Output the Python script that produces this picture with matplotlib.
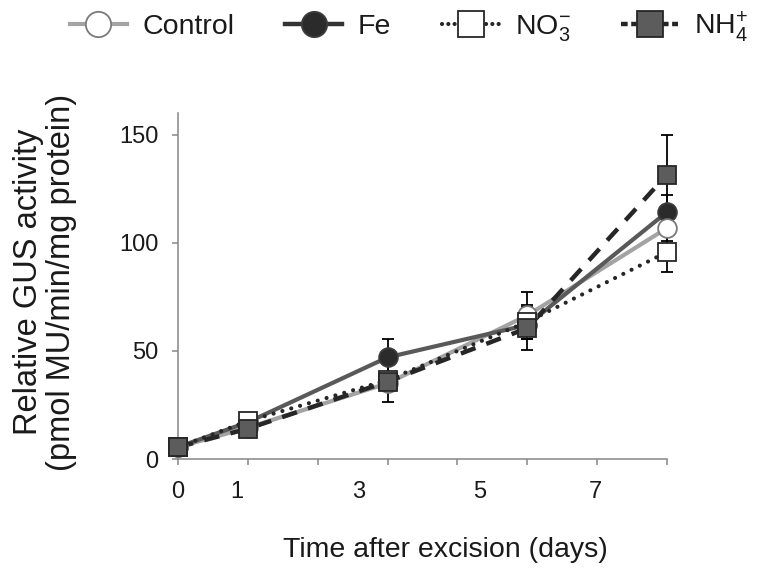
import matplotlib
matplotlib.use("Agg")
import matplotlib.pyplot as plt
from matplotlib.lines import Line2D

plt.rcParams['font.family'] = ['Liberation Sans', 'DejaVu Sans']
plt.rcParams['mathtext.fontset'] = 'custom'
plt.rcParams['mathtext.rm'] = 'Liberation Sans'
plt.rcParams['mathtext.it'] = 'Liberation Sans:italic'

# Sampling days (drawn on an evenly spaced category axis)
days = [0, 1, 3, 5, 7]
day_labels = ["0", "1", "3", "5", "7"]

# Relative GUS activity (pmol MU/min/mg protein)
control = [5.5, 14.5, 35.0, 66.4, 106.8]
fe = [5.5, 17.0, 47.0, 62.0, 114.2]
no3 = [5.5, 17.5, 36.5, 63.4, 95.7]
nh4 = [5.5, 14.0, 35.8, 60.5, 131.5]

# Standard errors
control_err = [1.0, 1.5, 3.0, 11.0, 6.0]
fe_err = [1.0, 1.5, 8.5, 5.0, 7.7]
no3_err = [1.0, 1.5, 3.0, 8.0, 9.4]
nh4_err = [1.0, 1.5, 9.3, 10.0, 18.2]

series_names = ["Control", "Fe", r"$\mathregular{NO_3^{-}}$", r"$\mathregular{NH_4^{+}}$"]

W, H = 760, 571
fig = plt.figure(figsize=(W / 100, H / 100), dpi=100)
ax = fig.add_axes([178 / W, 1 - 459 / H, (667 - 178) / W, (459 - 113) / H])

axis_gray = "#868686"
text_col = "#1a1a1a"

styles = [
    dict(y=control, e=control_err,
         line=dict(color="#a3a3a3", lw=3.0, ls="-"),
         leg=dict(color="#a3a3a3", lw=3.0, ls="-"),
         mk=dict(marker="o", mfc="white", mec="#7a7a7a", mew=1.3), z=6),
    dict(y=fe, e=fe_err,
         line=dict(color="#595959", lw=3.0, ls="-"),
         leg=dict(color="#333333", lw=3.2, ls="-"),
         mk=dict(marker="o", mfc="#2b2b2b", mec="#3c3c3c", mew=1.3), z=5),
    dict(y=no3, e=no3_err,
         line=dict(color="#262626", lw=3.0, ls=(0, (0.01, 2.2)), dash_capstyle="round"),
         leg=dict(color="#262626", lw=3.0, ls=(0, (0.01, 1.5)), dash_capstyle="round"),
         mk=dict(marker="s", mfc="white", mec="#262626", mew=1.3), z=7),
    dict(y=nh4, e=nh4_err,
         line=dict(color="#262626", lw=3.2, ls=(0, (3.5, 2.6))),
         leg=dict(color="#262626", lw=3.2, ls=(0, (1.5, 0.8))),
         mk=dict(marker="s", mfc="#5c5c5c", mec="#262626", mew=1.3), z=8),
]

msize = 13.5
for st in styles:
    ax.plot(days, st["y"], zorder=2, clip_on=False, **st["line"])
for st in styles:
    ax.errorbar(days, st["y"], yerr=st["e"], fmt="none", ecolor="#000000",
                elinewidth=1.3, capsize=4.5, capthick=1.3, zorder=3, clip_on=False)
for st in styles:
    ax.plot(days, st["y"], ls="none", ms=msize, zorder=st["z"], clip_on=False, **st["mk"])

ax.set_xlim(0, 7)
ax.set_ylim(0, 160)
ax.set_yticks([0, 50, 100, 150])
ax.set_xticks(range(8))
ax.set_xticklabels([])
# day labels sit on their own (zero-length) minor ticks
ax.xaxis.remove_overlapping_locs = False
ax.set_xticks([0, 0.845, 2.59, 4.32, 5.97], minor=True)
ax.set_xticklabels(day_labels, minor=True)

for side in ("top", "right"):
    ax.spines[side].set_visible(False)
for side in ("left", "bottom"):
    ax.spines[side].set_color(axis_gray)
    ax.spines[side].set_linewidth(1.1)

ax.tick_params(axis="y", which="major", direction="out", length=4.3, width=1.1,
               color=axis_gray, labelsize=17, labelcolor=text_col, pad=10)
ax.tick_params(axis="x", which="major", direction="out", length=4.3, width=1.1,
               color=axis_gray)
ax.tick_params(axis="x", which="minor", length=0, labelsize=17,
               labelcolor=text_col, pad=16)

fig.text(45 / W, 1 - 282 / H, "Relative GUS activity\n(pmol MU/min/mg protein)",
         rotation=90, ha="center", va="center", multialignment="center",
         fontsize=23.5, linespacing=1.12, color=text_col)
fig.text(445 / W, 1 - 550 / H, "Time after excision (days)",
         ha="center", va="center", fontsize=20.5, color=text_col)

handles = []
for st in styles:
    handles.append(Line2D([], [], ms=msize, **st["leg"], **st["mk"]))
fig.legend(handles, series_names, loc="center", bbox_to_anchor=(409 / W, 1 - 27 / H),
           ncol=4, frameon=False, fontsize=20.5, handlelength=2.0,
           handletextpad=0.56, columnspacing=1.78, markerscale=1.35,
           borderpad=0, labelcolor=text_col)

fig.savefig("out.png", dpi=100)
